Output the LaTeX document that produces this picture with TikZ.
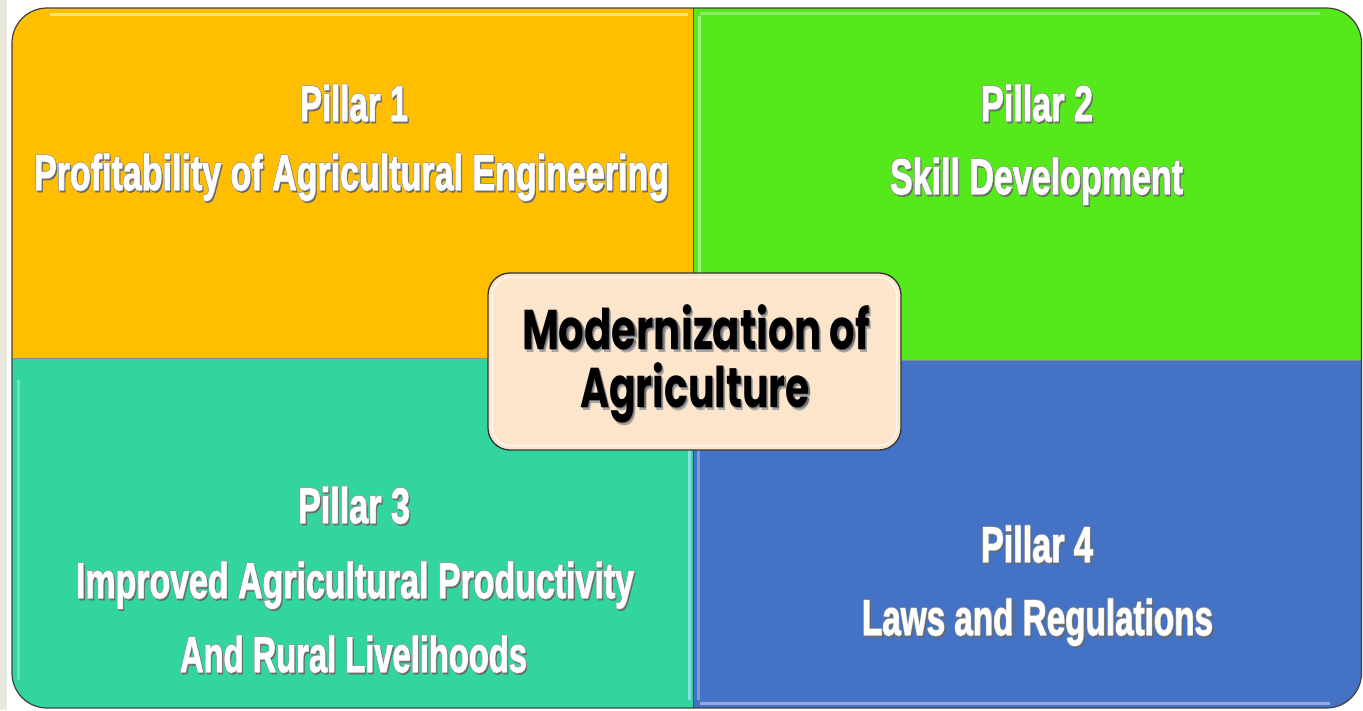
\documentclass[tikz,border=0pt]{standalone}
\usepackage{fontspec}
\setmainfont{Liberation Sans}
\newfontfamily\pillarfont{Liberation Sans}[UprightFont={* Bold},FakeBold=1.6]
\newfontfamily\centerfont{Poppins}[UprightFont={* Bold}]
\definecolor{yel}{HTML}{FFBF00}
\definecolor{grn}{HTML}{55E81A}
\definecolor{tea}{HTML}{32D4A0}
\definecolor{blu}{HTML}{4472C4}
\definecolor{peach}{HTML}{FDE5CB}
\definecolor{beige}{HTML}{E8E9DA}
\newcommand\pltext[2]{\resizebox{#1}{\height}{%
  \rlap{\kern2pt\raisebox{-2pt}{\color{black!60}#2}}%
  \rlap{\kern0.8pt{\color{black!40}#2}}\rlap{\kern-0.8pt{\color{black!40}#2}}%
  \rlap{\raisebox{0.8pt}{\color{black!40}#2}}\rlap{\raisebox{-0.8pt}{\color{black!40}#2}}%
  #2}}
\newcommand\cntext[2]{\resizebox{#1}{\height}{%
  \rlap{\kern3pt\raisebox{-3pt}{\color{black!35}#2}}%
  \rlap{\kern1.8pt\raisebox{-1.8pt}{\color{black!55}#2}}%
  #2}}
\tikzset{
  pl/.style={anchor=base, inner sep=0pt, text=white, font=\fontsize{50}{60}\selectfont\pillarfont},
  cn/.style={anchor=base, inner sep=0pt, text=black, font=\fontsize{56}{66}\selectfont\centerfont},
  hl/.style={line width=3pt, white, opacity=0.45},
  centerbox/.style={draw=black!80, line width=1.3pt, fill=peach, rounded corners=22pt,
    minimum width=413pt, minimum height=177pt, inner sep=0pt}
}
\begin{document}
\begin{tikzpicture}[x=1pt,y=-1pt]
\useasboundingbox (0,0) rectangle (1363,710);
\fill[white] (0,0) rectangle (1363,710);
\fill[beige] (0,0) rectangle (7,710);
% quadrants
\begin{scope}
\clip[rounded corners=35pt] (12,8) rectangle (1361.5,708);
\fill[yel] (12,8) rectangle (693,358);
\fill[grn] (693,8) rectangle (1362,360);
\fill[tea] (12,358) rectangle (693,708);
\fill[blu] (693,360) rectangle (1362,708);
% glossy highlights
\draw[hl, color=yellow!60!white, opacity=0.8] (50,14) -- (688,14);
\draw[hl] (699,16) -- (699,354);
\draw[hl, opacity=0.3] (700,13) -- (1320,13);
\draw[hl, color=cyan!30!white, opacity=0.7] (689,364) -- (689,700);
\draw[hl, opacity=0.3] (18,380) -- (18,680);
\draw[hl, color=blue!20!white, opacity=0.6] (700,703) -- (1330,703);
\draw[hl, opacity=0.3] (698,366) -- (698,700);
% seams
\draw[black!70, line width=1pt] (693,8) -- (693,708);
\draw[black!45, line width=0.8pt] (12,358) -- (693,358);
\draw[black!45, line width=0.8pt] (693,360) -- (1362,360);
\end{scope}
\draw[black!75, line width=1.2pt, rounded corners=35pt] (12,8) rectangle (1361.5,708);
% pillar texts
\node[pl] (p1a) at (354,121) {\pltext{108pt}{Pillar 1}};
\node[pl] (p1b) at (351.5,190) {\pltext{635pt}{Profitability of Agricultural Engineering}};
\node[pl] (p2a) at (1037,121) {\pltext{112pt}{Pillar 2}};
\node[pl] (p2b) at (1036.5,194) {\pltext{293pt}{Skill Development}};
\node[pl] (p3a) at (354,523) {\pltext{112pt}{Pillar 3}};
\node[pl] (p3b) at (355,598) {\pltext{558pt}{Improved Agricultural Productivity}};
\node[pl] (p3c) at (353.5,672) {\pltext{347pt}{And Rural Livelihoods}};
\node[pl] (p4a) at (1037,562) {\pltext{112pt}{Pillar 4}};
\node[pl] (p4b) at (1037.5,635) {\pltext{351pt}{Laws and Regulations}};
% center box
\node[centerbox] (c) at (694.5,361.5) {};
\draw[white, opacity=0.7, line width=1.5pt, rounded corners=18pt] ([xshift=5pt,yshift=-5pt]c.north west) rectangle ([xshift=-5pt,yshift=5pt]c.south east);
\node[cn] (c1) at (696,349) {\cntext{348pt}{Modernization of}};
\node[cn] (c2) at (695,407) {\cntext{230pt}{Agriculture}};
\end{tikzpicture}
\end{document}
